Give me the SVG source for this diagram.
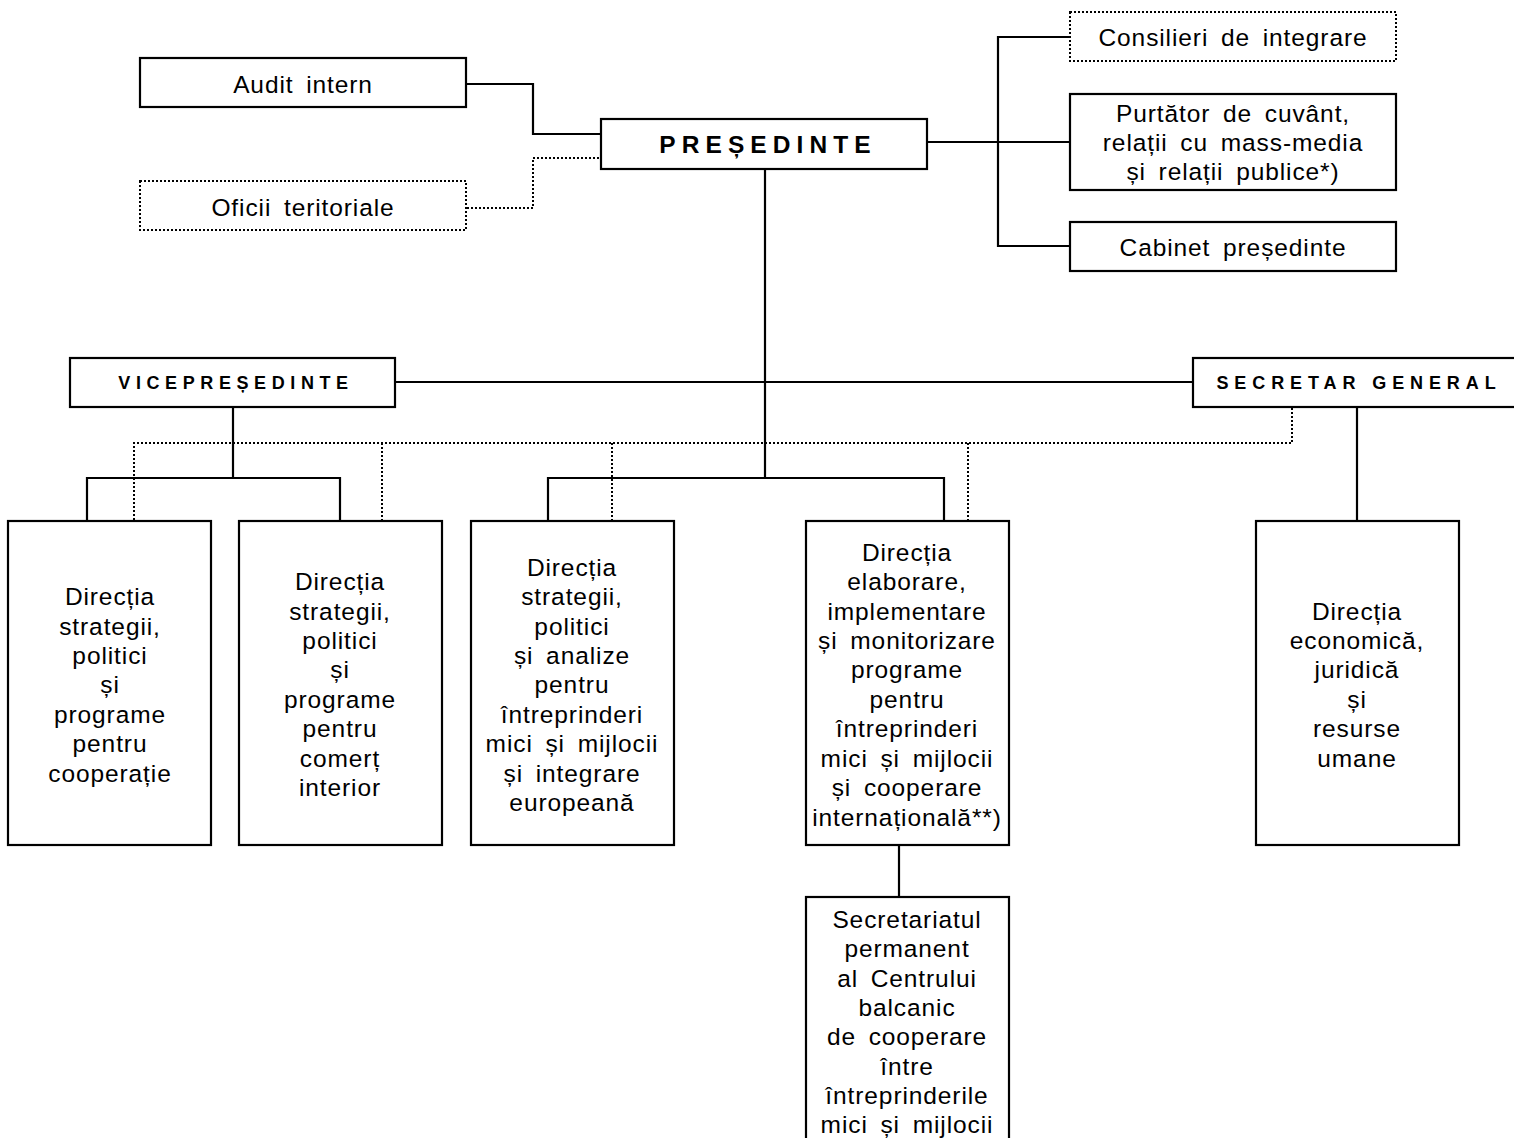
<svg xmlns="http://www.w3.org/2000/svg" width="1514" height="1138" viewBox="0 0 1514 1138">
<style>
.box{fill:#fff;stroke:#000;stroke-width:2.2}
.dbox{fill:#fff;stroke:#000;stroke-width:2;stroke-dasharray:2 2}
.ln{fill:none;stroke:#000;stroke-width:2.2}
.dl{fill:none;stroke:#000;stroke-width:2;stroke-dasharray:2 2}
text{font-family:"Liberation Sans",Arial,sans-serif;font-size:24.5px;letter-spacing:0.9px;word-spacing:5px;text-anchor:middle;fill:#000}
.h1{font-weight:bold;font-size:24.5px;letter-spacing:6.1px}
.h2{font-weight:bold;font-size:18px;letter-spacing:5.6px;word-spacing:0}
.h3{font-weight:bold;font-size:18px;letter-spacing:5.9px;word-spacing:0}
</style>
<rect width="1514" height="1138" fill="#fff"/>
<g id="connectors">
<polyline class="ln" points="466,84 533,84 533,134 601,134"/>
<polyline class="dl" points="467,208 533,208 533,158 601,158"/>
<line class="ln" x1="927" y1="142" x2="1070" y2="142"/>
<polyline class="ln" points="1070,37 998,37 998,246 1070,246"/>
<line class="ln" x1="765" y1="169" x2="765" y2="478"/>
<line class="ln" x1="395" y1="382" x2="1193" y2="382"/>
<line class="ln" x1="233" y1="407" x2="233" y2="478"/>
<polyline class="ln" points="87,521 87,478 340,478 340,521"/>
<polyline class="ln" points="548,521 548,478 944,478 944,521"/>
<line class="ln" x1="1357" y1="407" x2="1357" y2="521"/>
<polyline class="dl" points="1292,408 1292,443 134,443 134,521"/>
<line class="dl" x1="382" y1="443" x2="382" y2="521"/>
<line class="dl" x1="612" y1="443" x2="612" y2="521"/>
<line class="dl" x1="968" y1="443" x2="968" y2="521"/>
<line class="ln" x1="899" y1="845" x2="899" y2="897"/>
</g>
<g id="audit"><rect class="box" x="140" y="58" width="326" height="49"/><text x="303" y="93">Audit intern</text></g>
<g id="oficii"><rect class="dbox" x="140" y="181" width="326" height="49"/><text x="303" y="216">Oficii teritoriale</text></g>
<g id="presedinte"><rect class="box" x="601" y="119" width="326" height="50"/><text class="h1" x="768" y="153">PREȘEDINTE</text></g>
<g id="consilieri"><rect class="dbox" x="1070" y="12" width="326" height="49"/><text x="1233" y="46">Consilieri de integrare</text></g>
<g id="purtator"><rect class="box" x="1070" y="94" width="326" height="96"/><text x="1233" y="122">Purtător de cuvânt,</text><text x="1233" y="151">relații cu mass-media</text><text x="1233" y="180">și relații publice*)</text></g>
<g id="cabinet"><rect class="box" x="1070" y="222" width="326" height="49"/><text x="1233" y="256">Cabinet președinte</text></g>
<g id="vicepresedinte"><rect class="box" x="70" y="358" width="325" height="49"/><text class="h2" x="236" y="389">VICEPREȘEDINTE</text></g>
<g id="secretar"><rect class="box" x="1193" y="358" width="330" height="49"/><text class="h3" x="1359" y="389">SECRETAR GENERAL</text></g>
<g id="dir1"><rect class="box" x="8" y="521" width="203" height="324"/>
<text x="110" y="605">Direcția</text><text x="110" y="635">strategii,</text><text x="110" y="664">politici</text><text x="110" y="693">și</text><text x="110" y="723">programe</text><text x="110" y="752">pentru</text><text x="110" y="782">cooperație</text></g>
<g id="dir2"><rect class="box" x="239" y="521" width="203" height="324"/>
<text x="340" y="590">Direcția</text><text x="340" y="620">strategii,</text><text x="340" y="649">politici</text><text x="340" y="678">și</text><text x="340" y="708">programe</text><text x="340" y="737">pentru</text><text x="340" y="767">comerț</text><text x="340" y="796">interior</text></g>
<g id="dir3"><rect class="box" x="471" y="521" width="203" height="324"/>
<text x="572" y="576">Direcția</text><text x="572" y="605">strategii,</text><text x="572" y="635">politici</text><text x="572" y="664">și analize</text><text x="572" y="693">pentru</text><text x="572" y="723">întreprinderi</text><text x="572" y="752">mici și mijlocii</text><text x="572" y="782">și integrare</text><text x="572" y="811">europeană</text></g>
<g id="dir4"><rect class="box" x="806" y="521" width="203" height="324"/>
<text x="907" y="561">Direcția</text><text x="907" y="590">elaborare,</text><text x="907" y="620">implementare</text><text x="907" y="649">și monitorizare</text><text x="907" y="678">programe</text><text x="907" y="708">pentru</text><text x="907" y="737">întreprinderi</text><text x="907" y="767">mici și mijlocii</text><text x="907" y="796">și cooperare</text><text x="907" y="826">internațională**)</text></g>
<g id="dir5"><rect class="box" x="1256" y="521" width="203" height="324"/>
<text x="1357" y="620">Direcția</text><text x="1357" y="649">economică,</text><text x="1357" y="678">juridică</text><text x="1357" y="708">și</text><text x="1357" y="737">resurse</text><text x="1357" y="767">umane</text></g>
<g id="secretariat"><rect class="box" x="806" y="897" width="203" height="260"/>
<text x="907" y="928">Secretariatul</text><text x="907" y="957">permanent</text><text x="907" y="987">al Centrului</text><text x="907" y="1016">balcanic</text><text x="907" y="1045">de cooperare</text><text x="907" y="1075">între</text><text x="907" y="1104">întreprinderile</text><text x="907" y="1133">mici și mijlocii</text></g>
</svg>
